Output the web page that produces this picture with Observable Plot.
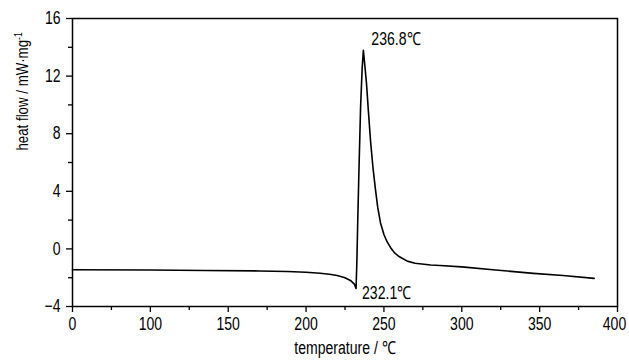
<!DOCTYPE html>
<html><head><meta charset="utf-8">
<script src="https://cdn.jsdelivr.net/npm/d3@7"></script>
<script src="https://cdn.jsdelivr.net/npm/@observablehq/plot@0.6"></script>
<style>body{margin:0;background:#fff}</style>
</head><body><div id="chart"></div>
<script>
const temperature = [50, 100, 135, 170, 188, 200, 209, 215, 220, 225, 228.5, 231, 232.1, 232.6, 233.2, 233.9, 235.0, 236.0, 236.8, 237.5, 238.8, 240, 241.4, 243, 244.6, 246, 247.8, 250, 252, 254.2, 257, 260, 265, 270, 280, 286, 300, 320, 346, 365, 385];
const heatFlow = [-1.45, -1.47, -1.5, -1.53, -1.57, -1.62, -1.69, -1.76, -1.85, -2.0, -2.19, -2.45, -2.75, -1.0, 2.0, 5.2, 9.8, 12.5, 13.8, 13.0, 11.5, 9.6, 7.5, 5.6, 4.1, 2.9, 1.8, 1.0, 0.5, 0.1, -0.3, -0.55, -0.85, -1.0, -1.12, -1.15, -1.25, -1.45, -1.7, -1.85, -2.05];
const xTicks = [50, 100, 150, 200, 250, 300, 350, 400];
const xTickLabels = ["0", "100", "150", "200", "250", "300", "350", "400"];
const xMinorTicks = [75, 125, 175, 225, 275, 325, 375];
const yTicks = [-4, 0, 4, 8, 12, 16];
const yMinorTicks = [-2, 2, 6, 10, 14];
const peakLabels = ["236.8℃", "232.1℃"];
const peakTemps = [236.8, 232.1];
const peakValues = [13.8, -2.75];
const xLabel = "temperature / ℃";
const yLabel = "heat flow / mW·mg";
const yLabelSup = "-1";

const FONT = "'Liberation Sans', Arial, sans-serif";
const NARROW = 0.78;
const data = temperature.map((t, i) => ({t, h: heatFlow[i]}));

const chart = Plot.plot({
  width: 629, height: 361,
  marginLeft: 72, marginRight: 12, marginTop: 18, marginBottom: 55,
  style: {fontFamily: FONT, fontSize: "18px", color: "black", background: "white", overflow: "visible"},
  x: {domain: [50, 400], label: null},
  y: {domain: [-4, 16], label: null},
  marks: [
    Plot.axisX({ticks: xMinorTicks, tickSize: 4, tickFormat: () => "", strokeWidth: 1.3}),
    Plot.axisX({ticks: xTicks, tickSize: 6, tickPadding: 5, strokeWidth: 1.3, tickFormat: d => xTickLabels[xTicks.indexOf(d)], fontSize: 18}),
    Plot.axisY({ticks: yMinorTicks, tickSize: 4, tickFormat: () => "", strokeWidth: 1.3}),
    Plot.axisY({ticks: yTicks, tickSize: 6, tickPadding: 6, strokeWidth: 1.3, fontSize: 18}),
    Plot.frame({stroke: "black", strokeWidth: 1.5}),
    Plot.line(data, {x: "t", y: "h", stroke: "black", strokeWidth: 1.6}),
    Plot.text([peakLabels[0]], {x: [peakTemps[0]], y: [peakValues[0]], text: d => d, textAnchor: "start", dx: 8, dy: -11, fontSize: 18}),
    Plot.text([peakLabels[1]], {x: [peakTemps[1]], y: [peakValues[1]], text: d => d, textAnchor: "start", dx: 6, dy: 5, fontSize: 18}),
    Plot.text([xLabel], {frameAnchor: "bottom", text: d => d, dy: 47, fontSize: 18}),
    Plot.text([yLabel], {frameAnchor: "left", text: d => d, rotate: -90, dx: -50, dy: -12, fontSize: 17})
  ]
});

d3.select(chart).selectAll("text")
  .filter(function() { return this.textContent === yLabel; })
  .each(function() {
    d3.select(this).append("tspan").attr("baseline-shift", "super").attr("font-size", "11px").text(yLabelSup);
  });

document.getElementById("chart").appendChild(chart);

// condense glyphs to mimic the narrow typeface of the original
d3.select(chart).selectAll("text").each(function() {
  const len = this.getComputedTextLength();
  if (len > 0) {
    this.setAttribute("textLength", (len * NARROW).toFixed(2));
    this.setAttribute("lengthAdjust", "spacingAndGlyphs");
  }
});

// keep the last x tick label inside the picture, as in the original
d3.select(chart).selectAll("text")
  .filter(function() { return this.textContent === xTickLabels[xTickLabels.length - 1]; })
  .attr("dx", -3);
</script>
</body></html>
